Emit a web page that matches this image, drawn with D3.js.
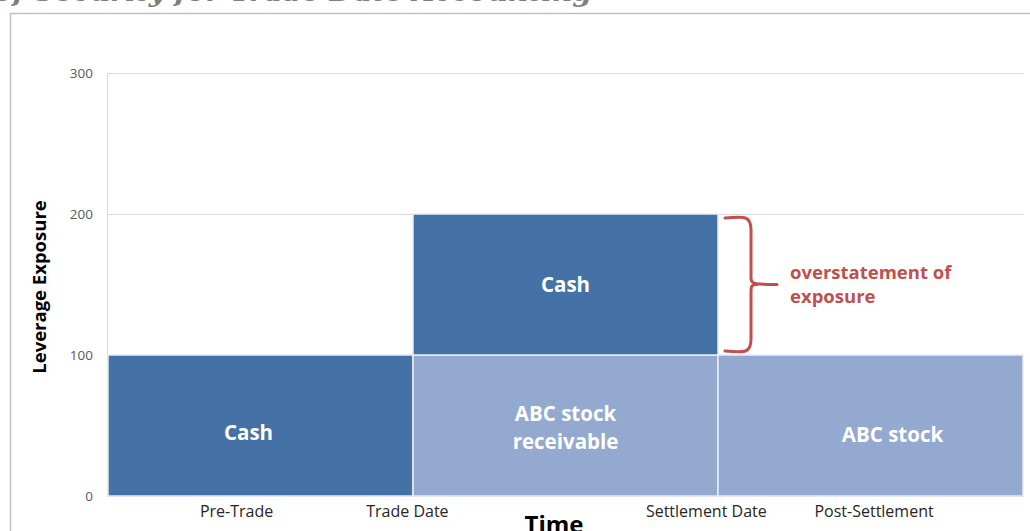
<!DOCTYPE html>
<html>
<head>
<meta charset="utf-8">
<script src="https://cdn.jsdelivr.net/npm/d3@7"></script>
<style>
  html, body { margin: 0; padding: 0; background: #fff; }
  svg { display: block; }
</style>
</head>
<body>
<svg id="chart" width="1030" height="531"></svg>
<script>
// ---- data ----
const barNames   = ["Cash", "ABC stock receivable", "Cash", "ABC stock"];
const barKinds   = ["cash", "stock", "cash", "stock"];
const barStart   = [0, 1, 1, 2];      // time units
const barEnd     = [1, 2, 2, 3];
const barBase    = [0, 0, 100, 0];    // leverage exposure
const barValue   = [100, 100, 100, 100];
const barLines   = [["Cash"], ["ABC stock", "receivable"], ["Cash"], ["ABC stock"]];

const timeLabels = ["Pre-Trade", "Trade Date", "Settlement Date", "Post-Settlement"];
const timeTicks  = [0.42, 0.98, 1.96, 2.51];
const yTicks     = [0, 100, 200, 300];
const braceRange = [200, 100];
const braceText  = ["overstatement of", "exposure"];

// ---- setup ----
const svg = d3.select("#chart");
const font = "'Open Sans', 'Noto Sans', sans-serif";
const colors = { cash: "#4471A6", stock: "#94A9D0" };

const x = d3.scaleLinear().domain([0, 3]).range([108, 1023]);
const y = d3.scaleLinear().domain([0, 300]).range([496, 73]);

// cut-off title at the top
svg.append("text")
  .attr("x", -6).attr("y", 1)
  .attr("font-family", "'DejaVu Serif', 'Liberation Serif', serif")
  .attr("font-style", "italic").attr("font-weight", "bold")
  .attr("font-size", 27).attr("fill", "#7f7f7f")
  .attr("textLength", 598).attr("lengthAdjust", "spacingAndGlyphs")
  .text("of Security for Trade Date Accounting");

// outer frame
svg.append("path")
  .attr("d", "M10.5,531 V13.5 H1030")
  .attr("fill", "none").attr("stroke", "#bfbfbf").attr("stroke-width", 1.5);

// gridlines + y axis
const yAxis = d3.axisLeft(y).tickValues(yTicks).tickSize(-(x(3) - x(0) + 2)).tickPadding(14);
const gy = svg.append("g").attr("transform", `translate(${x(0) - 1},0)`).call(yAxis);
gy.select(".domain").attr("stroke", "#d9d9d9");
gy.selectAll(".tick line").attr("stroke", "#d9d9d9").attr("stroke-width", 1);
gy.selectAll(".tick text").attr("font-family", font).attr("font-size", 13.5).attr("fill", "#595959");

// bars
svg.append("g").selectAll("rect")
  .data(barNames.map((n, i) => ({ n, i })))
  .join("rect")
  .attr("x", d => x(barStart[d.i]))
  .attr("width", d => x(barEnd[d.i]) - x(barStart[d.i]))
  .attr("y", d => y(barBase[d.i] + barValue[d.i]))
  .attr("height", d => y(barBase[d.i]) - y(barBase[d.i] + barValue[d.i]))
  .attr("fill", d => colors[barKinds[d.i]])
  .attr("stroke", "#e8edf5").attr("stroke-width", 1.5);

// bar labels
const labelDx = [-12, 0, 0, 22];
const labelDy = [7, 2, 0, 9];
barLines.forEach((lines, i) => {
  const cx = (x(barStart[i]) + x(barEnd[i])) / 2 + labelDx[i];
  const cy = (y(barBase[i]) + y(barBase[i] + barValue[i])) / 2 + labelDy[i];
  const t = svg.append("text")
    .attr("text-anchor", "middle")
    .attr("font-family", font).attr("font-weight", "bold")
    .attr("font-size", 20.5).attr("fill", "#ffffff");
  const lh = 28;
  lines.forEach((l, k) => {
    t.append("tspan")
      .attr("x", cx)
      .attr("y", cy + 7.5 + (k - (lines.length - 1) / 2) * lh)
      .text(l);
  });
});

// x axis labels
const xAxis = d3.axisBottom(x).tickValues(timeTicks)
  .tickFormat((d, i) => timeLabels[i]).tickSize(0).tickPadding(10);
const gx = svg.append("g").attr("transform", `translate(0,${y(0)})`).call(xAxis);
gx.select(".domain").remove();
gx.selectAll(".tick text").attr("font-family", font).attr("font-size", 16).attr("fill", "#262626");

// axis titles
svg.append("text")
  .attr("x", 554).attr("y", 533)
  .attr("text-anchor", "middle")
  .attr("font-family", font).attr("font-weight", "bold").attr("font-size", 24).attr("fill", "#000")
  .text("Time");

svg.append("text")
  .attr("transform", `translate(46,287) rotate(-90)`)
  .attr("text-anchor", "middle")
  .attr("font-family", font).attr("font-weight", "bold").attr("font-size", 18.5).attr("fill", "#000")
  .text("Leverage Exposure");

// brace
const bx0 = x(2) + 7, bTop = y(braceRange[0]) + 4, bBot = y(braceRange[1]) - 4;
const bMid = (bTop + bBot) / 2, bx1 = bx0 + 26, bTip = bx0 + 52;
const braceD = `M${bx0},${bTop} C${bx0 + 20},${bTop - 2} ${bx1},${bTop - 2} ${bx1},${bTop + 12}
  L${bx1},${bMid - 6} C${bx1},${bMid} ${bx1 + 6},${bMid} ${bTip},${bMid}
  M${bx1 + 6},${bMid} C${bx1},${bMid} ${bx1},${bMid + 2} ${bx1},${bMid + 8}
  L${bx1},${bBot - 12} C${bx1},${bBot + 2} ${bx0 + 20},${bBot + 2} ${bx0},${bBot}`;
svg.append("path")
  .attr("d", braceD)
  .attr("fill", "none").attr("stroke", "#C0504D").attr("stroke-width", 3)
  .attr("stroke-linecap", "round").attr("stroke-linejoin", "round");

svg.append("text")
  .attr("font-family", font).attr("font-weight", "bold").attr("font-size", 18.5).attr("fill", "#C0504D")
  .selectAll("tspan").data(braceText).join("tspan")
  .attr("x", 790).attr("y", (d, i) => 279 + i * 24)
  .text(d => d);
</script>
</body>
</html>
